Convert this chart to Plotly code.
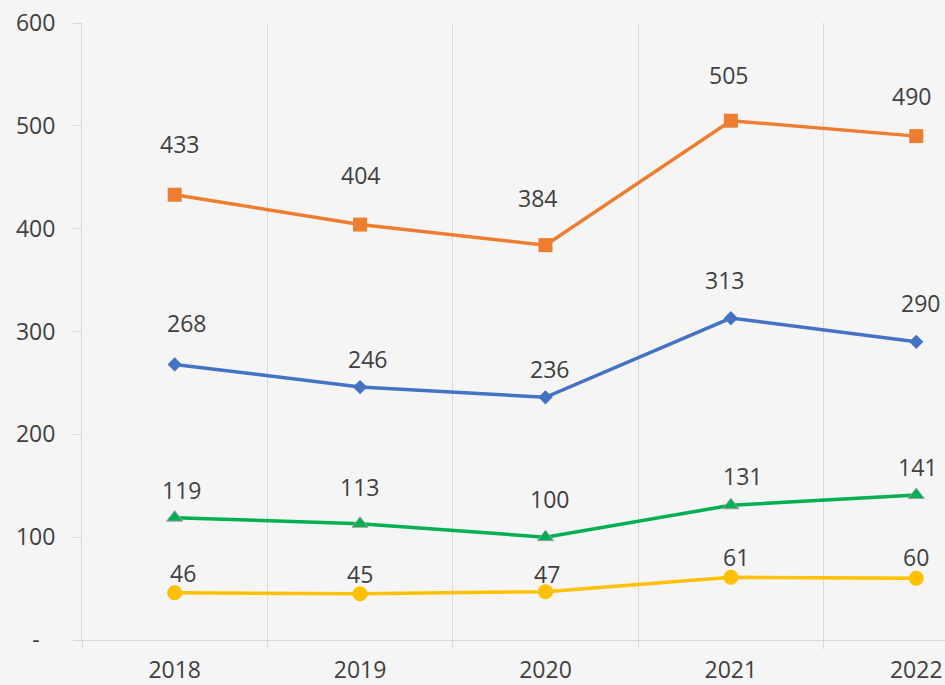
import plotly.graph_objects as go

years = ["2018", "2019", "2020", "2021", "2022"]
series_blue = [268, 246, 236, 313, 290]
series_orange = [433, 404, 384, 505, 490]
series_green = [119, 113, 100, 131, 141]
series_yellow = [46, 45, 47, 61, 60]

y_tickvals = [0, 100, 200, 300, 400, 500, 600]
y_ticktext = ["-\u00a0\u00a0\u2009", "100", "200", "300", "400", "500", "600"]

# label offsets (px) as placed in the original chart
lbl_dx = {
    "blue": [12, 7, 4, -6, 4],
    "orange": [5, 0, -8, -2, -5],
    "green": [7, -1, 4, 12, 1],
    "yellow": [8, 0, 2, 5, 0],
}
lbl_dy = {
    "blue": [41, 28, 28, 38, 39],
    "orange": [51, 50, 47, 46, 40],
    "green": [28, 37, 38, 29, 28],
    "yellow": [20, 20, 18, 20, 21],
}

FONT = "Open Sans"
TXT = "#404040"
GRID = "#d9d9d9"

styles = [
    ("blue", series_blue, "#4472C4", dict(symbol="diamond", size=11)),
    ("orange", series_orange, "#ED7D31", dict(symbol="square", size=14)),
    ("green", series_green, "#00B050", dict(symbol="triangle-up", size=14,
                                            line=dict(color="#a0a0a0", width=1))),
    ("yellow", series_yellow, "#FFC000", dict(symbol="circle", size=15)),
]

fig = go.Figure()
annotations = []
for key, vals, color, mk in styles:
    marker = dict(color=color, **mk)
    fig.add_trace(go.Scatter(
        x=years, y=vals, mode="lines+markers",
        line=dict(color=color, width=3.5),
        marker=marker, showlegend=False, cliponaxis=False,
    ))
    for i, v in enumerate(vals):
        annotations.append(dict(
            x=i, y=v, xref="x", yref="y", text=str(v), showarrow=False,
            xanchor="center", yanchor="middle",
            xshift=lbl_dx[key][i], yshift=lbl_dy[key][i],
            font=dict(family=FONT, size=23, color=TXT),
        ))

fig.update_layout(
    width=945, height=685,
    margin=dict(l=82, r=0, t=23, b=45, pad=0),
    paper_bgcolor="#f5f5f5", plot_bgcolor="#f5f5f5",
    font=dict(family=FONT, size=23, color=TXT),
    annotations=annotations,
    xaxis=dict(
        type="category", range=[-0.5, 4.155], automargin=False,
        tickson="boundaries", showgrid=True, gridcolor=GRID, gridwidth=1,
        ticks="outside", ticklen=8, tickcolor=GRID, tickwidth=1,
        showline=True, linecolor=GRID, linewidth=1,
        tickfont=dict(family=FONT, size=23, color=TXT),
        ticklabelstandoff=9, zeroline=False,
    ),
    yaxis=dict(
        range=[0, 600], tickvals=y_tickvals, ticktext=y_ticktext,
        automargin=False,
        showgrid=False, zeroline=False,
        ticks="outside", ticklen=8, tickcolor=GRID, tickwidth=1,
        showline=True, linecolor=GRID, linewidth=1,
        tickfont=dict(family=FONT, size=23, color=TXT),
        ticklabelstandoff=13,
    ),
)

fig.write_html(
    "out.html",
    config={"displayModeBar": False},
    post_script="document.body.style.margin='0';document.body.style.background='#f5f5f5';",
)
